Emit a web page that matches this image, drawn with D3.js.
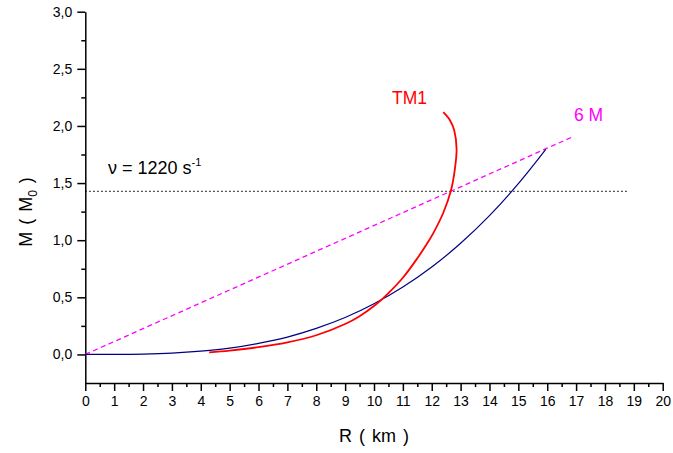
<!DOCTYPE html>
<html><head><meta charset="utf-8">
<script src="https://cdn.jsdelivr.net/npm/d3@7"></script>
<style>body{margin:0;background:#fff}svg{display:block}text{font-family:"Liberation Sans",Arial,sans-serif}</style>
</head><body><svg id="c" width="673" height="453"></svg>
<script>
// Data
const xTicks = [0,1,2,3,4,5,6,7,8,9,10,11,12,13,14,15,16,17,18,19,20];
const yTicks = [0,0.5,1.0,1.5,2.0,2.5,3.0];
const blueR = [0, 1, 2, 3, 4, 5, 6, 7, 8, 9, 10, 11, 12, 13, 14, 15, 15.95];
const blueM = [0, 0.0005, 0.0035, 0.012, 0.029, 0.055, 0.097, 0.152, 0.228, 0.323, 0.443, 0.59, 0.765, 0.973, 1.215, 1.495, 1.795];
const tm1R = [4.29, 5, 6, 7, 8, 9, 9.5, 10, 10.32, 10.5, 11, 11.5, 11.8, 12.05, 12.4, 12.67, 12.8, 12.86, 12.78, 12.63, 12.4];
const tm1M = [0.018, 0.034, 0.064, 0.106, 0.168, 0.266, 0.335, 0.424, 0.493, 0.536, 0.671, 0.841, 0.955, 1.06, 1.24, 1.44, 1.62, 1.80, 1.96, 2.05, 2.12];
const sixMR = [0, 16.9];
const sixMM = [0, 1.907];
const freqR = [0, 18.76];
const freqM = [1.427, 1.427];

const svg = d3.select("#c");
const x = d3.scaleLinear().domain([0,20]).range([85.3,662.7]);
const y = d3.scaleLinear().domain([-0.25,3]).range([383,11.7]);
const fmtY = d => d3.format(".1f")(d).replace(".", ",");

// minor ticks
const xMinor = xTicks.slice(0,-1).map(d=>d+0.5);
const yMinor = yTicks.slice(0,-1).map(d=>d+0.25);
svg.append("g").attr("transform",`translate(0,383)`)
  .call(d3.axisBottom(x).tickValues(xMinor).tickSize(4).tickSizeOuter(0).tickFormat(""))
  .call(g=>g.select(".domain").remove()).selectAll("line").attr("stroke-width",1.5);
svg.append("g").attr("transform",`translate(85.3,0)`)
  .call(d3.axisLeft(y).tickValues(yMinor).tickSize(4).tickSizeOuter(0).tickFormat(""))
  .call(g=>g.select(".domain").remove()).selectAll("line").attr("stroke-width",1.5);

const gx = svg.append("g").attr("transform",`translate(0,383)`)
  .call(d3.axisBottom(x).tickValues(xTicks).tickSize(8).tickSizeOuter(0).tickPadding(5).tickFormat(d3.format("d")));
gx.select(".domain").attr("stroke-width",1.5);
gx.selectAll("line").attr("stroke-width",1.5);
gx.selectAll("text").attr("font-size",14).attr("font-family","Liberation Sans, Arial").attr("fill","#000");

const gy = svg.append("g").attr("transform",`translate(85.3,0)`)
  .call(d3.axisLeft(y).tickValues(yTicks).tickSize(8).tickSizeOuter(0).tickPadding(5).tickFormat(fmtY));
gy.select(".domain").attr("stroke-width",1.5);
gy.selectAll("line").attr("stroke-width",1.5);
gy.selectAll("text").attr("font-size",14).attr("font-family","Liberation Sans, Arial").attr("fill","#000");

// lines
const line = d3.line().x(d=>x(d[0])).y(d=>y(d[1]));
const lineC = d3.line().x(d=>x(d[0])).y(d=>y(d[1])).curve(d3.curveCatmullRom.alpha(0.5));

svg.append("path").datum(d3.zip(freqR,freqM)).attr("d",line)
  .attr("fill","none").attr("stroke","#000").attr("stroke-width",1.2).attr("stroke-dasharray","1.3 2.7");
svg.append("path").datum(d3.zip(sixMR,sixMM)).attr("d",line)
  .attr("fill","none").attr("stroke","#ff00ff").attr("stroke-width",1.3).attr("stroke-dasharray","5 3.5");
svg.append("path").datum(d3.zip(blueR,blueM)).attr("d",lineC)
  .attr("fill","none").attr("stroke","#000080").attr("stroke-width",1.2);
svg.append("path").datum(d3.zip(tm1R,tm1M)).attr("d",lineC)
  .attr("fill","none").attr("stroke","#ff0000").attr("stroke-width",1.8);

// annotations
svg.append("text").attr("x",392).attr("y",103.5).attr("font-size",17.5).attr("fill","#ff0000").text("TM1");
svg.append("text").attr("x",574).attr("y",121).attr("font-size",17.5).attr("fill","#ff00ff").text("6 M");
const nu = svg.append("text").attr("x",108).attr("y",174).attr("font-size",18).attr("fill","#000");
nu.append("tspan").text("ν = 1220 s");
nu.append("tspan").attr("font-size",11).attr("dy",-8).text("-1");

// axis titles
svg.append("text").attr("x",374).attr("y",442).attr("text-anchor","middle").attr("font-size",18).attr("fill","#000")
  .attr("word-spacing","2px").text("R ( km )");
const yt = svg.append("text").attr("transform","translate(32,212) rotate(-90)").attr("text-anchor","middle")
  .attr("font-size",18).attr("fill","#000").attr("word-spacing","2px");
yt.append("tspan").text("M ( M");
yt.append("tspan").attr("font-size",12).attr("dy",5).text("0");
yt.append("tspan").attr("dy",-5).text(" )");
</script></body></html>
